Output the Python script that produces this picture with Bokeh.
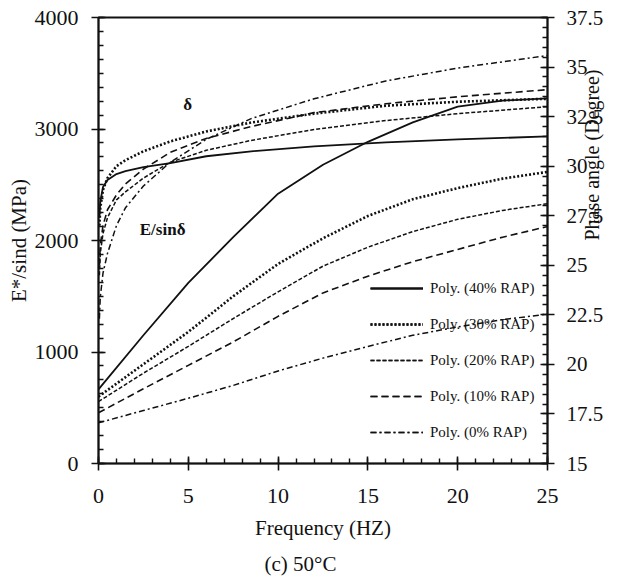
from math import pi
from bokeh.plotting import figure
from bokeh.models import (Range1d, LinearAxis, SingleIntervalTicker, Legend,
                          LegendItem, Label, Title)
from bokeh.embed import file_html
from bokeh.resources import INLINE

# ---------------- data ----------------
freq_e = [0, 2.5, 5, 7.5, 10, 12.5, 15, 17.5, 20, 22.5, 25]
e_rap40 = [665, 1150, 1620, 2030, 2420, 2680, 2885, 3060, 3200, 3255, 3275]
e_rap30 = [600, 890, 1180, 1500, 1790, 2020, 2220, 2370, 2470, 2555, 2615]
e_rap20 = [555, 810, 1050, 1300, 1540, 1770, 1940, 2080, 2190, 2270, 2330]
e_rap10 = [455, 670, 880, 1090, 1320, 1530, 1680, 1810, 1920, 2030, 2125]
e_rap0 = [365, 475, 585, 700, 830, 945, 1050, 1150, 1225, 1290, 1340]

freq_d = [0.05, 0.1, 0.25, 0.5, 1, 1.5, 2.5, 4, 6, 8.5, 12, 16, 20, 25]
d_rap40 = [27.4, 28.2, 28.95, 29.3, 29.6, 29.75, 29.95, 30.15, 30.5, 30.75, 31.0, 31.2, 31.35, 31.5]
d_rap30 = [27.0, 27.9, 28.8, 29.4, 30.0, 30.3, 30.75, 31.25, 31.75, 32.2, 32.65, 33.05, 33.25, 33.4]
d_rap20 = [24.5, 25.6, 26.6, 27.4, 28.3, 28.7, 29.4, 30.2, 30.8, 31.3, 31.85, 32.3, 32.65, 33.0]
d_rap10 = [25.0, 26.0, 27.0, 27.8, 28.55, 29.1, 29.85, 30.7, 31.4, 32.0, 32.7, 33.15, 33.5, 33.86]
d_rap0 = [22.3, 23.4, 24.6, 25.6, 27.0, 27.9, 29.0, 30.2, 31.35, 32.4, 33.4, 34.3, 34.95, 35.58]

series_names = ["Poly. (40% RAP)", "Poly. (30% RAP)", "Poly. (20% RAP)",
                "Poly. (10% RAP)", "Poly. (0% RAP)"]
right_ticks = [15, 17.5, 20, 22.5, 25, 27.5, 30, 32.5, 35, 37.5]
right_tick_labels = ["15", "17.5", "20", "22.5", "25", "27.5", "30", "32.5", "35", "37.5"]

FONT = "Liberation Serif"
INK = "#111111"

p = figure(width=618, height=577, x_range=Range1d(0, 25), y_range=Range1d(0, 4000),
           output_backend="svg", toolbar_location=None,
           min_border_left=98, min_border_right=71, min_border_top=17,
           min_border_bottom=114)
p.extra_y_ranges = {"deg": Range1d(15, 37.5)}
p.xgrid.visible = False
p.ygrid.visible = False
p.outline_line_color = INK
p.outline_line_width = 2
p.background_fill_color = "white"
p.border_fill_color = "white"

right_axis = LinearAxis(y_range_name="deg")
p.add_layout(right_axis, "right")

p.xaxis.ticker = SingleIntervalTicker(interval=5, num_minor_ticks=5)
p.yaxis[0].ticker = SingleIntervalTicker(interval=1000, num_minor_ticks=8)
right_axis.ticker = SingleIntervalTicker(interval=2.5, num_minor_ticks=5)
right_axis.major_label_overrides = {float(t): s for t, s in zip(right_ticks, right_tick_labels)}

for ax in [p.xaxis[0], p.yaxis[0], right_axis]:
    ax.axis_line_color = INK
    ax.axis_line_width = 1.6
    ax.major_tick_line_color = INK
    ax.major_tick_line_width = 1.6
    ax.minor_tick_line_color = INK
    ax.minor_tick_line_width = 1.4
    ax.major_tick_in = 7
    ax.major_tick_out = 7
    ax.minor_tick_in = 5
    ax.minor_tick_out = 0
    ax.major_label_text_font = FONT
    ax.major_label_text_font_size = "22px"
    ax.major_label_text_color = INK
    ax.major_label_standoff = 13
p.xaxis[0].major_label_standoff = 18
right_axis.major_label_text_font_size = "21px"
right_axis.major_label_standoff = 12

right_axis.axis_label = "Phase angle (Degree)"
right_axis.axis_label_text_font = FONT
right_axis.axis_label_text_font_style = "normal"
right_axis.axis_label_text_color = INK
right_axis.axis_label_text_font_size = "20px"
right_axis.axis_label_standoff = -14
if "axis_label_orientation" in right_axis.properties():
    right_axis.axis_label_orientation = pi / 2

# axis titles as Title objects (serif font)
p.add_layout(Title(text="E*/sind (MPa)", text_font=FONT, text_font_size="21px",
                   text_font_style="normal", text_color=INK, align="center",
                   standoff=2), "left")
p.add_layout(Title(text="Frequency (HZ)", text_font=FONT, text_font_size="21px",
                   text_font_style="normal", text_color=INK, align="center",
                   offset=4, standoff=17), "below")
p.add_layout(Title(text="(c) 50°C", text_font=FONT, text_font_size="21px",
                   text_font_style="normal", text_color=INK, align="left",
                   offset=166, standoff=3), "below")

styles = [
    dict(line_dash="solid", line_width=1.8),
    dict(line_dash="2 2", line_width=2.6),
    dict(line_dash="4 2", line_width=1.5),
    dict(line_dash="7 4", line_width=1.6),
    dict(line_dash="6 3 2 3", line_width=1.5),
]
e_series = [e_rap40, e_rap30, e_rap20, e_rap10, e_rap0]
d_series = [d_rap40, d_rap30, d_rap20, d_rap10, d_rap0]

items = []
for name, ev, dv, st in zip(series_names, e_series, d_series, styles):
    r1 = p.line(freq_e, ev, line_color=INK, **st)
    r2 = p.line(freq_d, dv, line_color=INK, y_range_name="deg", **st)
    items.append(LegendItem(label=name, renderers=[r1, r2]))

legend = Legend(items=items, location=(272, 21), glyph_width=53, glyph_height=20,
                label_standoff=7, spacing=16, padding=0, margin=0,
                border_line_alpha=0, background_fill_alpha=0,
                label_text_font=FONT, label_text_font_size="15px",
                label_text_color=INK)
p.add_layout(legend)

# text annotations inside the plot
p.add_layout(Label(x=4.97, y=3220, text="δ", text_font=FONT, text_font_size="17px",
                   text_font_style="bold", text_align="center", text_baseline="middle",
                   text_color=INK))
p.add_layout(Label(x=3.57, y=2100, text="E/sinδ", text_font=FONT, text_font_size="17px",
                   text_font_style="bold", text_align="center", text_baseline="middle",
                   text_color=INK))

open("out.html", "w").write(file_html(p, INLINE))
